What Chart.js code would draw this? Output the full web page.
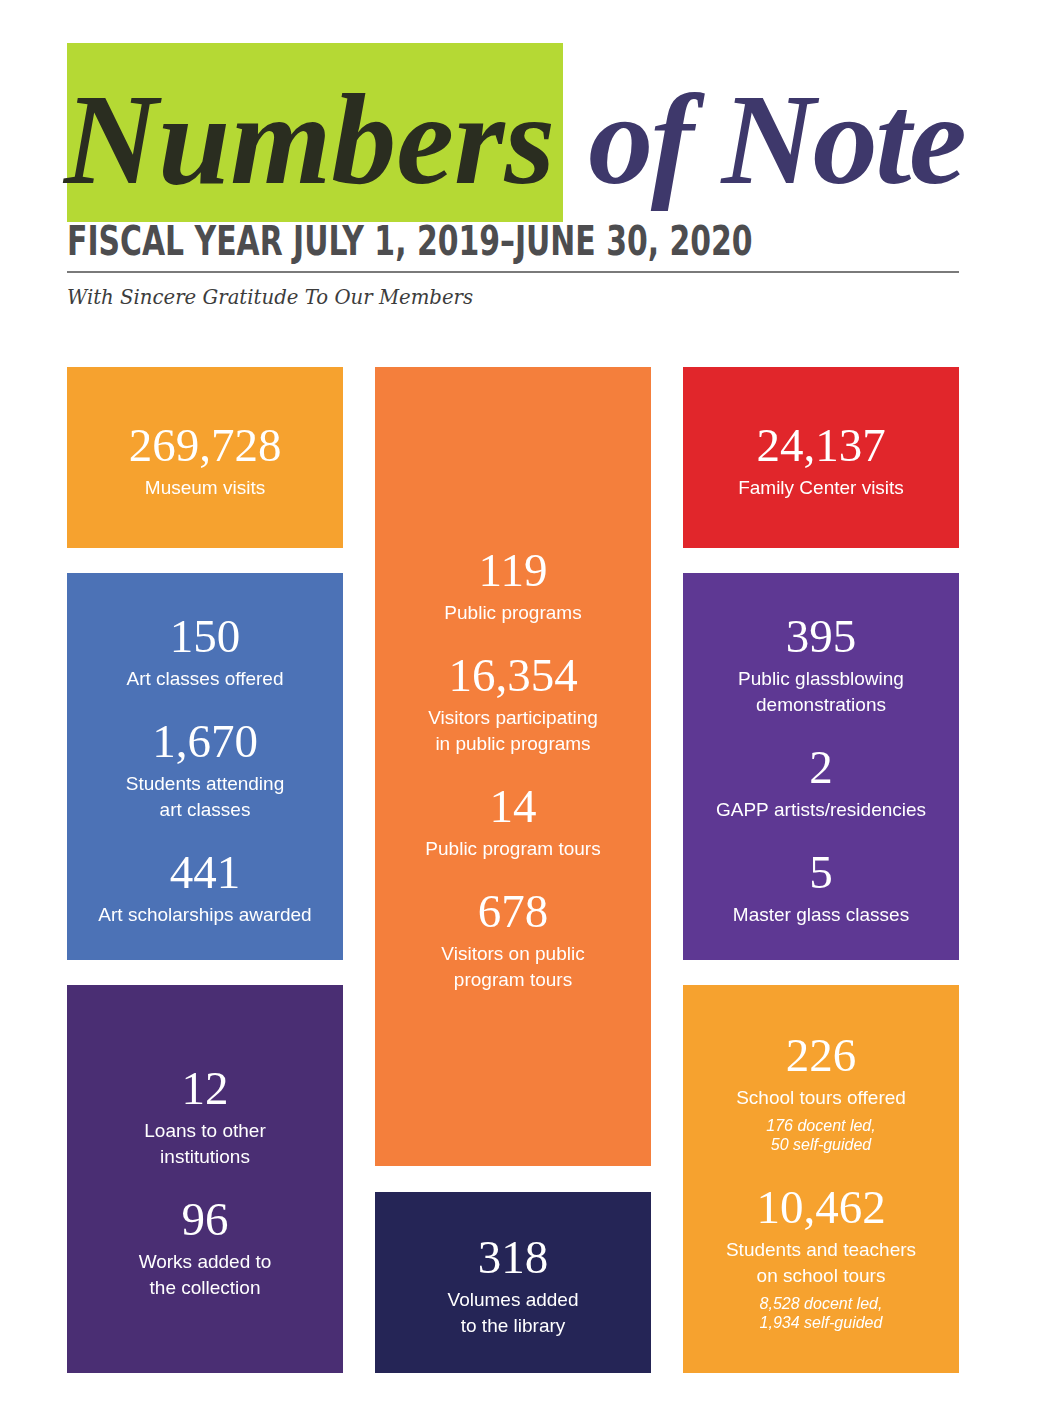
<!DOCTYPE html>
<html>
<head>
<meta charset="utf-8">
<title>Numbers of Note</title>
<script src="https://cdn.jsdelivr.net/npm/chart.js@4.4.1/dist/chart.umd.min.js"></script>
<style>
  html, body { margin: 0; padding: 0; background: #fff; }
  #page { position: relative; width: 1038px; height: 1428px; overflow: hidden; }
  .title-box { position: absolute; left: 67px; top: 43px; width: 496px; height: 179px; background: #B5D934; }
  .title { position: absolute; left: 64px; top: 74px; font-family: "Liberation Serif", serif; font-weight: bold; font-style: italic;
           font-size: 130px; line-height: 130px; white-space: nowrap; }
  .title .t1 { color: #2A2D20; }
  .title .t2 { color: #3E386B; margin-left: 33px; letter-spacing: -2.5px; }
  .fiscal { position: absolute; left: 67px; top: 221px; font-family: "Liberation Sans Narrow", "DejaVu Sans Condensed", sans-serif;
            font-weight: bold; font-size: 41px; line-height: 41px; color: #4D4D4F; white-space: nowrap;
            transform: scaleX(0.81); transform-origin: left top; }
  .rule { position: absolute; left: 67px; top: 271px; width: 892px; height: 1.5px; background: #7a7a7a; }
  .thanks { position: absolute; left: 67px; top: 288px; font-family: "DejaVu Serif", serif; font-style: italic;
            font-size: 19.7px; line-height: 19.7px; color: #3c3c3c; white-space: nowrap; }
  #tiles { position: absolute; left: 51px; top: 367px; width: 924px; height: 1006px; }
</style>
</head>
<body>
<div id="page">
  <div class="title-box"></div>
  <div class="title"><span class="t1">Numbers</span><span class="t2">of Note</span></div>
  <div class="fiscal">FISCAL YEAR JULY 1, 2019–JUNE 30, 2020</div>
  <div class="rule"></div>
  <div class="thanks">With Sincere Gratitude To Our Members</div>
  <div id="tiles"><canvas id="chart-notes"></canvas></div>
</div>

<script>
'use strict';

/* ─── 데이터 ─── */
var columns = ['left', 'middle', 'right'];

// tile extents on the layout scale (top → bottom)
var tileColumns = [0, 0, 0, 1, 1, 2, 2, 2];
var tileSpans = [[0, 181], [206, 593], [618, 1006], [0, 799], [825, 1006], [0, 181], [206, 593], [618, 1006]];
var tileColors = ['#F6A22F', '#4C72B6', '#4A2E73', '#F47F3C', '#252556', '#E1262B', '#5E3893', '#F6A22F'];

// figures shown in each tile
var statTile = [0, 1, 1, 1, 2, 2, 3, 3, 3, 3, 4, 5, 6, 6, 6, 7, 7];
var statValues = ['269,728', '150', '1,670', '441', '12', '96', '119', '16,354', '14', '678', '318',
                  '24,137', '395', '2', '5', '226', '10,462'];
var statLabels = [
  ['Museum visits'],
  ['Art classes offered'],
  ['Students attending', 'art classes'],
  ['Art scholarships awarded'],
  ['Loans to other', 'institutions'],
  ['Works added to', 'the collection'],
  ['Public programs'],
  ['Visitors participating', 'in public programs'],
  ['Public program tours'],
  ['Visitors on public', 'program tours'],
  ['Volumes added', 'to the library'],
  ['Family Center visits'],
  ['Public glassblowing', 'demonstrations'],
  ['GAPP artists/residencies'],
  ['Master glass classes'],
  ['School tours offered'],
  ['Students and teachers', 'on school tours']
];
var statNotes = [[], [], [], [], [], [], [], [], [], [], [], [], [], [], [],
  ['176 docent led,', '50 self-guided'],
  ['8,528 docent led,', '1,934 self-guided']
];

/* ─── 텍스트 스타일 ─── */
var FONT_NUM = '47px "Liberation Serif", serif';
var FONT_LABEL = '19px "Liberation Sans", Arial, sans-serif';
var FONT_NOTE = 'italic 16px "Liberation Sans", Arial, sans-serif';

// center-to-center gaps between consecutive lines
function gapBetween(prev, next) {
  if (next === 'num') return 63;
  if (prev === 'num') return 42;
  if (prev === 'label' && next === 'label') return 26;
  if (prev === 'label' && next === 'note') return 28;
  return 19;
}

var halfHeight = { num: 16, label: 8, note: 6 };
var baselineShift = { num: 16, label: 7, note: 6 };

/* ─── 타일 텍스트 플러그인 ─── */
var tileTextPlugin = {
  id: 'tileText',
  afterDatasetsDraw: function (chart) {
    var ctx = chart.ctx;
    ctx.save();
    ctx.fillStyle = '#ffffff';
    ctx.textAlign = 'center';
    ctx.textBaseline = 'alphabetic';

    for (var t = 0; t < tileSpans.length; t++) {
      var bar = chart.getDatasetMeta(t).data[tileColumns[t]];
      if (!bar) continue;
      var top = Math.min(bar.y, bar.base);
      var bottom = Math.max(bar.y, bar.base);

      // build the line list for this tile
      var lines = [];
      for (var s = 0; s < statValues.length; s++) {
        if (statTile[s] !== t) continue;
        lines.push({ kind: 'num', text: statValues[s] });
        for (var a = 0; a < statLabels[s].length; a++) lines.push({ kind: 'label', text: statLabels[s][a] });
        for (var b = 0; b < statNotes[s].length; b++) lines.push({ kind: 'note', text: statNotes[s][b] });
      }

      var pos = 0;
      for (var i = 0; i < lines.length; i++) {
        if (i > 0) pos += gapBetween(lines[i - 1].kind, lines[i].kind);
        lines[i].c = pos;
      }
      var last = lines[lines.length - 1];
      var extTop = -halfHeight.num;
      var extBottom = last.c + halfHeight[last.kind];
      var offset = (top + bottom) / 2 + 4 - (extTop + extBottom) / 2;

      for (var k = 0; k < lines.length; k++) {
        var ln = lines[k];
        ctx.font = ln.kind === 'num' ? FONT_NUM : (ln.kind === 'label' ? FONT_LABEL : FONT_NOTE);
        ctx.fillText(ln.text, bar.x, offset + ln.c + baselineShift[ln.kind]);
      }
    }
    ctx.restore();
  }
};

/* ─── 차트 ─── */
function buildDatasets() {
  var sets = [];
  for (var t = 0; t < tileSpans.length; t++) {
    var data = [];
    for (var c = 0; c < columns.length; c++) data.push(c === tileColumns[t] ? tileSpans[t] : null);
    sets.push({
      data: data,
      backgroundColor: tileColors[t],
      borderWidth: 0,
      grouped: false,
      categoryPercentage: 1,
      barPercentage: 276 / 308
    });
  }
  return sets;
}

var canvas = document.getElementById('chart-notes');
new Chart(canvas, {
  type: 'bar',
  data: { labels: columns, datasets: buildDatasets() },
  options: {
    responsive: true,
    maintainAspectRatio: false,
    animation: false,
    layout: { padding: 0 },
    plugins: { legend: { display: false }, tooltip: { enabled: false } },
    scales: {
      x: { display: false, offset: true },
      y: { display: false, reverse: true, min: 0, max: 1006 }
    }
  },
  plugins: [tileTextPlugin]
});
</script>
</body>
</html>
